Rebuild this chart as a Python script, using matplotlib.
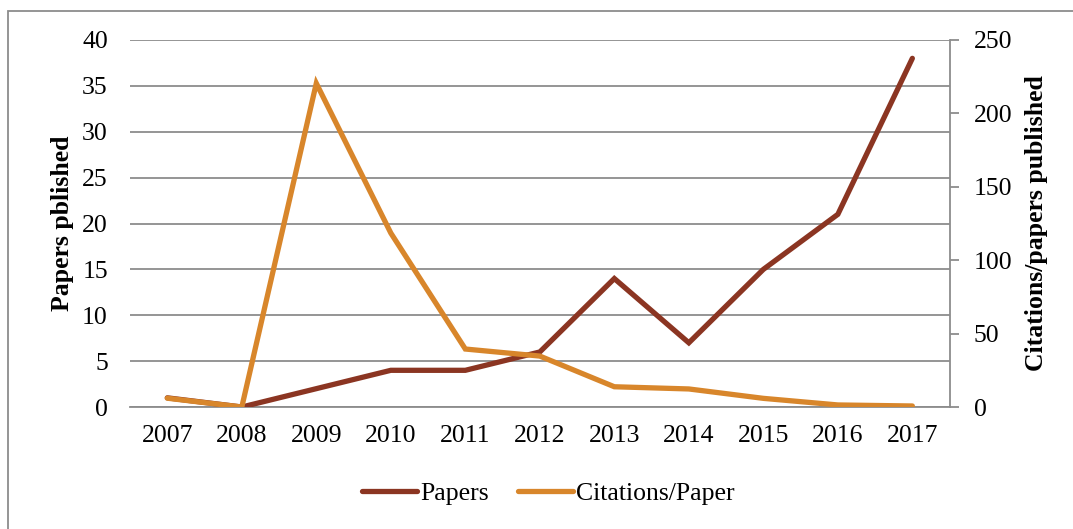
import numpy as np
import matplotlib
matplotlib.use("Agg")
import matplotlib.pyplot as plt
from matplotlib.patches import Rectangle
from matplotlib.lines import Line2D

plt.rcParams["font.family"] = ["Liberation Serif", "DejaVu Serif"]
plt.rcParams["font.size"] = 18.5

years = ["2007", "2008", "2009", "2010", "2011", "2012",
         "2013", "2014", "2015", "2016", "2017"]
papers = [1, 0, 2, 4, 4, 6, 14, 7, 15, 21, 38]
citations_per_paper = [6, 0, 220.5, 118.5, 39.5, 34.7, 13.8, 12.3, 5.9, 1.4, 0.7]

papers_color = "#8B3522"
cites_color = "#D8862B"
grid_color = "#8C8C8C"

fig = plt.figure(figsize=(10.73, 5.29), dpi=100)
ax = fig.add_axes([0.1212, 0.2306, 0.7638, 0.6938])
ax2 = ax.twinx()

x = np.arange(len(years)) + 0.5

ax.plot(x, papers, color=papers_color, linewidth=3.8, solid_capstyle="round",
        solid_joinstyle="miter", zorder=3)
ax2.plot(x, citations_per_paper, color=cites_color, linewidth=3.8,
         solid_capstyle="round", solid_joinstyle="miter", zorder=3)

ax.set_xlim(0, len(years))
ax.set_ylim(0, 40)
ax.set_yticks(np.arange(0, 41, 5))
ax2.set_ylim(0, 250)
ax2.set_yticks(np.arange(0, 251, 50))
ax.set_xticks(x)
ax.set_xticklabels(years)

ax.grid(axis="y", color=grid_color, linewidth=1.3)
ax.set_axisbelow(True)

for s in ["top", "left", "right"]:
    ax.spines[s].set_visible(False)
ax.spines["bottom"].set_color(grid_color)
ax.spines["bottom"].set_linewidth(1.3)
for s in ["top", "left", "bottom"]:
    ax2.spines[s].set_visible(False)
ax2.spines["right"].set_color(grid_color)
ax2.spines["right"].set_linewidth(1.3)

ax.tick_params(axis="x", length=0, pad=13)
ax.tick_params(axis="y", length=0, pad=16)
ax2.tick_params(axis="y", length=6.3, width=1.3, color=grid_color, pad=11)

ax.set_ylabel("Papers pblished", fontweight="bold", labelpad=6)
ax2.set_ylabel("Citations/papers published", fontweight="bold", labelpad=9)

handles = [Line2D([], [], color=papers_color, linewidth=3.8, solid_capstyle="round"),
           Line2D([], [], color=cites_color, linewidth=3.8, solid_capstyle="round")]
fig.legend(handles, ["Papers", "Citations/Paper"], loc="center",
           bbox_to_anchor=(0.511, 0.068), ncol=2, frameon=False,
           handlelength=2.15, handletextpad=0.12, columnspacing=1.15)

# outer chart border
fig.patches.append(Rectangle((0.0075, -0.1), 1.2, 1.0792, transform=fig.transFigure,
                             fill=False, edgecolor=grid_color, linewidth=1.3))

fig.savefig("out.png", dpi=100)
